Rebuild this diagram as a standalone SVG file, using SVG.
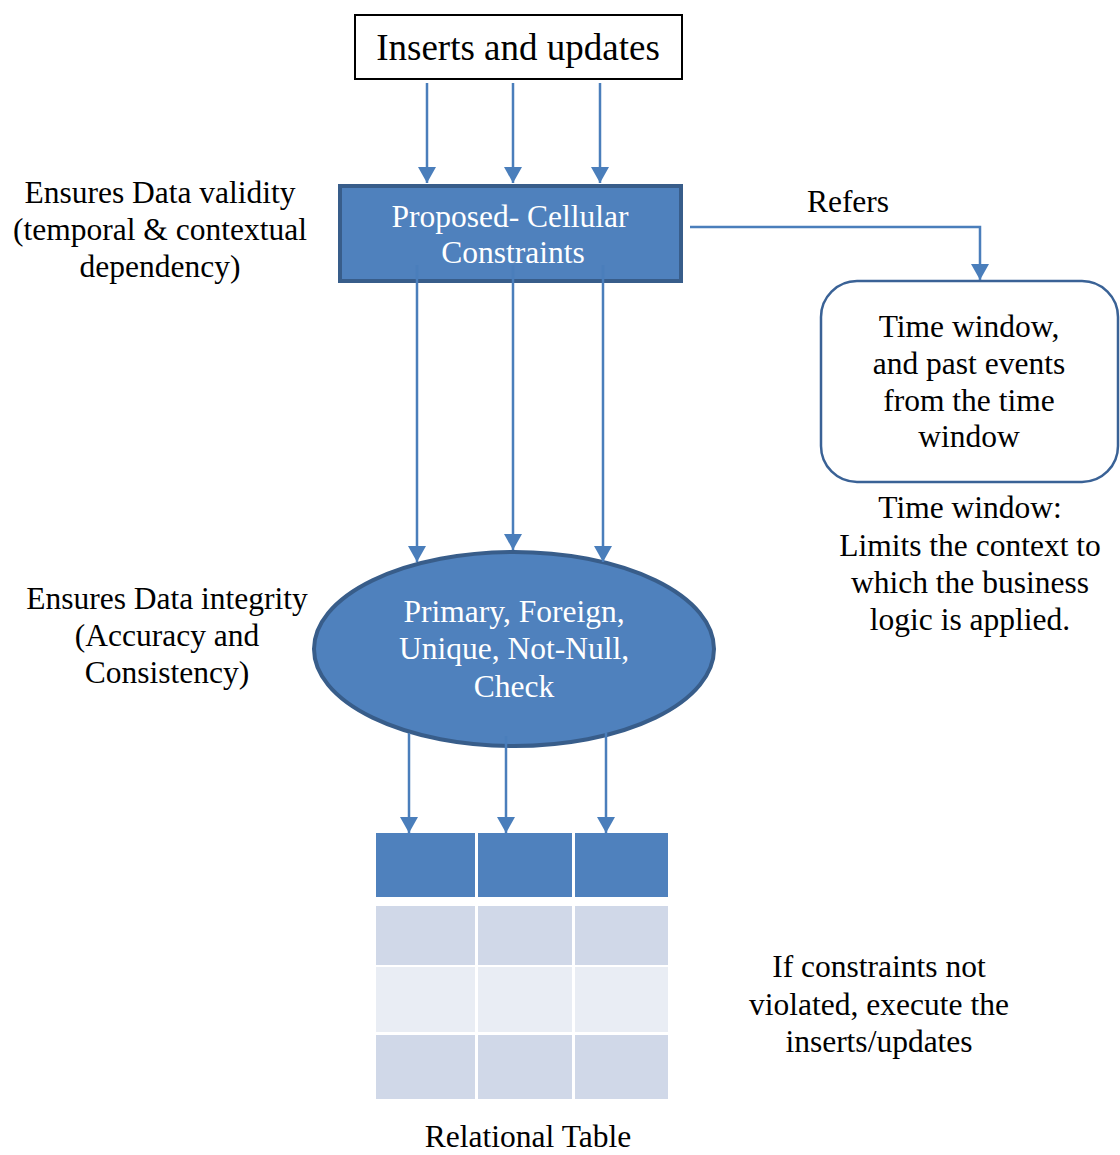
<svg xmlns="http://www.w3.org/2000/svg" width="1120" height="1155" viewBox="0 0 1120 1155">
  <style>
    .t { font-family: "Liberation Serif", "Times New Roman", serif; font-size: 31.5px; fill: #000; text-anchor: middle; }
    .w { fill: #fff; }
    .conn { stroke: #4A7EBB; stroke-width: 2.5; fill: none; }
    .head { fill: #4A7EBB; }
  </style>
  <defs>
    <marker id="arrow" markerUnits="userSpaceOnUse" markerWidth="18" markerHeight="18" viewBox="0 0 18 18" refX="16" refY="9" orient="auto">
      <path class="head" d="M0,0 L16,9 L0,18 Z"/>
    </marker>
  </defs>

  <rect width="1120" height="1155" fill="#fff"/>

  <!-- source of the change requests -->
  <g id="inserts">
    <rect x="355" y="15" width="327" height="64" fill="#fff" stroke="#000" stroke-width="2"/>
    <text class="t" x="518" y="60" style="font-size:37px">Inserts and updates</text>
  </g>

  <!-- cellular constraint layer -->
  <g id="cellular">
    <rect x="340" y="186" width="341" height="95" fill="#4F81BD" stroke="#385D8A" stroke-width="4"/>
    <text class="t w" x="510" y="227">Proposed- Cellular</text>
    <text class="t w" x="513" y="263">Constraints</text>
  </g>

  <!-- referenced time window -->
  <g id="time-window">
    <rect x="821" y="281" width="297" height="201" rx="36" ry="36" fill="#fff" stroke="#3A6296" stroke-width="2.5"/>
    <text class="t" x="969" y="337">Time window,</text>
    <text class="t" x="969" y="374">and past events</text>
    <text class="t" x="969" y="411">from the time</text>
    <text class="t" x="969" y="447">window</text>
  </g>

  <!-- classic relational constraints -->
  <g id="integrity">
    <ellipse cx="514" cy="649" rx="200" ry="97" fill="#4F81BD" stroke="#385D8A" stroke-width="4"/>
    <text class="t w" x="514" y="622">Primary, Foreign,</text>
    <text class="t w" x="514" y="659">Unique, Not-Null,</text>
    <text class="t w" x="514" y="697">Check</text>
  </g>

  <!-- target table -->
  <g id="table">
    <rect x="376" y="833" width="99" height="64" fill="#4F81BD"/>
    <rect x="478" y="833" width="94" height="64" fill="#4F81BD"/>
    <rect x="575" y="833" width="93" height="64" fill="#4F81BD"/>
    <rect x="376" y="906" width="99" height="59" fill="#D0D8E8"/>
    <rect x="478" y="906" width="94" height="59" fill="#D0D8E8"/>
    <rect x="575" y="906" width="93" height="59" fill="#D0D8E8"/>
    <rect x="376" y="967" width="99" height="65" fill="#E9EDF4"/>
    <rect x="478" y="967" width="94" height="65" fill="#E9EDF4"/>
    <rect x="575" y="967" width="93" height="65" fill="#E9EDF4"/>
    <rect x="376" y="1035" width="99" height="64" fill="#D0D8E8"/>
    <rect x="478" y="1035" width="94" height="64" fill="#D0D8E8"/>
    <rect x="575" y="1035" width="93" height="64" fill="#D0D8E8"/>
  </g>

  <!-- annotations -->
  <g id="note-validity">
    <text class="t" x="160" y="203">Ensures Data validity</text>
    <text class="t" x="160" y="240">(temporal &amp; contextual</text>
    <text class="t" x="160" y="277">dependency)</text>
  </g>
  <g id="note-integrity">
    <text class="t" x="167" y="609">Ensures Data integrity</text>
    <text class="t" x="167" y="646">(Accuracy and</text>
    <text class="t" x="167" y="683">Consistency)</text>
  </g>
  <g id="note-window">
    <text class="t" x="970" y="518">Time window:</text>
    <text class="t" x="970" y="556">Limits the context to</text>
    <text class="t" x="970" y="593">which the business</text>
    <text class="t" x="970" y="630">logic is applied.</text>
  </g>
  <g id="note-execute">
    <text class="t" x="879" y="977">If constraints not</text>
    <text class="t" x="879" y="1015">violated, execute the</text>
    <text class="t" x="879" y="1052">inserts/updates</text>
  </g>
  <g id="caption">
    <text class="t" x="528" y="1147">Relational Table</text>
  </g>

  <!-- connectors -->
  <g id="connectors">
    <line class="conn" x1="427" y1="83" x2="427" y2="183" marker-end="url(#arrow)"/>
    <line class="conn" x1="513" y1="83" x2="513" y2="183" marker-end="url(#arrow)"/>
    <line class="conn" x1="600" y1="83" x2="600" y2="183" marker-end="url(#arrow)"/>

    <polyline class="conn" points="690,227 980,227 980,280" marker-end="url(#arrow)"/>
    <text class="t" x="848" y="212">Refers</text>

    <line class="conn" x1="417" y1="265" x2="417" y2="562" marker-end="url(#arrow)"/>
    <line class="conn" x1="513" y1="265" x2="513" y2="550" marker-end="url(#arrow)"/>
    <line class="conn" x1="603" y1="265" x2="603" y2="562" marker-end="url(#arrow)"/>

    <line class="conn" x1="409" y1="733" x2="409" y2="833" marker-end="url(#arrow)"/>
    <line class="conn" x1="506" y1="736" x2="506" y2="833" marker-end="url(#arrow)"/>
    <line class="conn" x1="606" y1="733" x2="606" y2="833" marker-end="url(#arrow)"/>
  </g>
</svg>
